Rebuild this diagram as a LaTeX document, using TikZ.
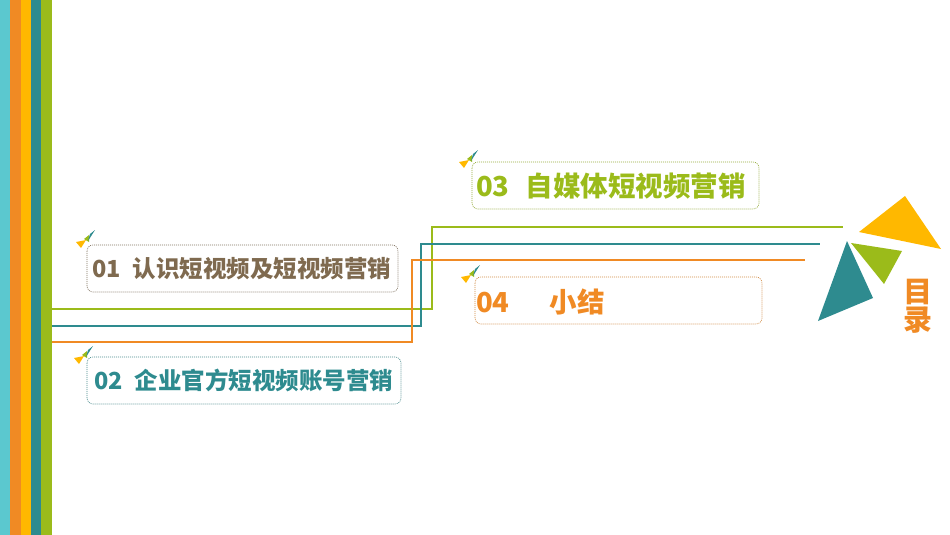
\documentclass[tikz,border=0pt]{standalone}
\usepackage{fontspec}
\setmainfont{Noto Sans CJK SC}
\newfontfamily\cjk{Noto Sans CJK SC}
\definecolor{cya}{HTML}{5BC8CF}
\definecolor{org}{HTML}{F08A24}
\definecolor{yel}{HTML}{FFB800}
\definecolor{tea}{HTML}{2E8B8F}
\definecolor{grn}{HTML}{9BBB1A}
\definecolor{brn}{HTML}{7F6A4F}
\begin{document}
\begin{tikzpicture}[x=1pt,y=-1pt,
 box/.style={draw=#1!70!gray,dashed,dash pattern=on 1pt off 1pt,rounded corners=6pt,line width=0.6pt},
 lbl/.style={font=\cjk\bfseries\fontsize{23.5}{27}\selectfont,anchor=west,inner sep=0},
 ln/.style={line width=2.2pt}]
\useasboundingbox (0,0) rectangle (950,535);
\fill[cya] (0,0) rectangle (10,535);
\fill[org] (10,0) rectangle (21,535);
\fill[yel] (21,0) rectangle (31,535);
\fill[tea] (31,0) rectangle (41,535);
\fill[grn] (41,0) rectangle (52,535);
% lines
\draw[ln,grn] (52,309) -| (432,227) -- (843,227);
\draw[ln,tea] (52,326) -| (421,244) -- (820,244);
\draw[ln,org] (52,342) -| (412,260) -- (805,260);
% boxes
\draw[box=brn] (87,245) rectangle (398,292);
\draw[box=tea] (87,357) rectangle (401,404);
\draw[box=grn] (472,162) rectangle (759,209);
\draw[box=org] (475,277) rectangle (762,324);
\node[lbl,text=brn] (t1) at (92,268.5) {01\hspace{12pt}认识短视频及短视频营销};
\node[lbl,text=tea] (t2) at (94,380.5) {02\hspace{12pt}企业官方短视频账号营销};
\node[lbl,text=grn,font=\cjk\bfseries\fontsize{27.5}{31}\selectfont] (t3) at (476,186) {03\hspace{16pt}自媒体短视频营销};
\node[lbl,text=org,font=\cjk\bfseries\fontsize{27.5}{31}\selectfont] (t4) at (476,302) {04\hspace{40pt}小结};
% icons
\foreach \x/\y in {76/230,74/346,459/150,461/265}{
 \fill[yel] (\x,\y+12) -- (\x+10,\y+10) -- (\x+5,\y+18) -- cycle;
 \fill[grn] (\x+8,\y+9) -- (\x+13,\y+5) -- (\x+13,\y+12) -- cycle;
 \fill[tea] (\x+12,\y+11) -- (\x+19,\y) -- (\x+14,\y+4) -- cycle;
}
% triangles
\fill[yel] (859,232) -- (905,196) -- (941,249) -- cycle;
\fill[grn] (851,243) -- (902,251) -- (884,284) -- cycle;
\fill[tea] (847,241) -- (873,298) -- (818,321) -- cycle;
\node[text=org,font=\cjk\bfseries\fontsize{29}{32}\selectfont,align=center,inner sep=0] (ml) at (918,306) {目\\[-4pt]录};
\end{tikzpicture}
\end{document}
